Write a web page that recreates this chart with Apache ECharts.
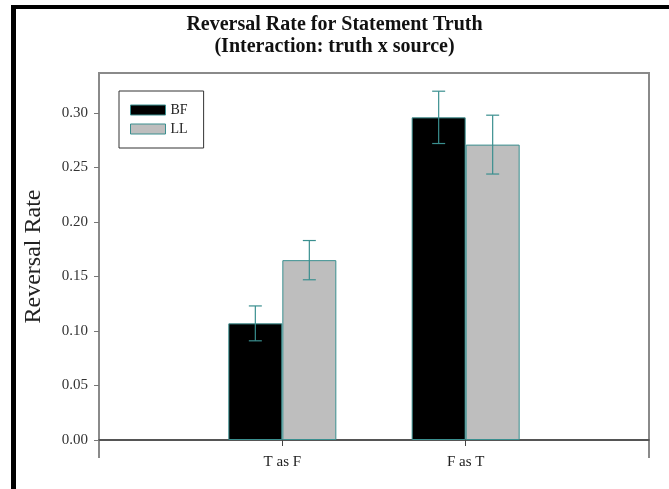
<!DOCTYPE html>
<html>
<head>
<meta charset="utf-8">
<script src="https://cdn.jsdelivr.net/npm/echarts@6/dist/echarts.min.js"></script>
<style>
  html, body { margin: 0; padding: 0; background: #fff; }
  #chart { width: 669px; height: 489px; }
</style>
</head>
<body>
<div id="chart"></div>
<script>
// Reversal rate by statement truth, split by source (BF / LL), with standard-error bars.
const groups = ['T as F', 'F as T'];
const seriesNames = ['BF', 'LL'];
const bfMean = [0.107, 0.296];
const bfErr = [0.016, 0.024];
const llMean = [0.165, 0.271];
const llErr = [0.018, 0.027];
const yTicks = [0, 0.05, 0.10, 0.15, 0.20, 0.25, 0.30];

const serif = 'Liberation Serif';
const teal = '#3a8f8f';
const barW = 54;

// Empty slots on both sides give the plot its outer margins.
const categories = [''].concat(groups, ['']);
const pad = arr => ['-'].concat(arr, ['-']);

function errData(means, errs) {
  return means.map((m, i) => [i + 1, m - errs[i], m + errs[i]]);
}

function errRenderer(offset) {
  return function (params, api) {
    const x = api.value(0);
    const lo = api.coord([x, api.value(1)]);
    const hi = api.coord([x, api.value(2)]);
    const cx = lo[0] + offset;
    const cap = 6.5;
    const style = { stroke: teal, lineWidth: 1.2 };
    return {
      type: 'group',
      children: [
        { type: 'line', shape: { x1: cx, y1: lo[1], x2: cx, y2: hi[1] }, style },
        { type: 'line', shape: { x1: cx - cap, y1: hi[1], x2: cx + cap, y2: hi[1] }, style },
        { type: 'line', shape: { x1: cx - cap, y1: lo[1], x2: cx + cap, y2: lo[1] }, style }
      ]
    };
  };
}

const chart = echarts.init(document.getElementById('chart'), null, { renderer: 'canvas' });

chart.setOption({
  animation: false,
  backgroundColor: '#fff',
  title: {
    text: 'Reversal Rate for Statement Truth\n(Interaction: truth x source)',
    left: 'center',
    top: 9,
    textStyle: { fontFamily: serif, fontSize: 20, fontWeight: 'bold', color: '#111', lineHeight: 22, align: 'center' }
  },
  legend: {
    orient: 'vertical',
    left: 119,
    top: 91,
    padding: [12, 16, 12, 11],
    itemWidth: 35,
    itemHeight: 10,
    itemGap: 5,
    icon: 'rect',
    borderColor: '#333',
    borderWidth: 1,
    data: seriesNames,
    textStyle: { fontFamily: serif, fontSize: 14, color: '#222', lineHeight: 14 },
    itemStyle: { borderColor: teal, borderWidth: 1 }
  },
  grid: {
    left: 99, right: 20, top: 73, bottom: 49,
    show: true, borderColor: '#8a8a8a', borderWidth: 2, backgroundColor: 'transparent'
  },
  xAxis: {
    type: 'category',
    data: categories,
    boundaryGap: false,
    axisLine: { lineStyle: { color: '#444', width: 1.5 } },
    axisTick: {
      length: 6,
      interval: (i, v) => v !== '',
      lineStyle: { color: '#444' }
    },
    axisLabel: { fontFamily: serif, fontSize: 15, color: '#222', margin: 15, interval: 0 },
    splitLine: { show: false }
  },
  yAxis: {
    type: 'value',
    min: 0,
    max: 0.3367,
    name: 'Reversal Rate',
    nameLocation: 'middle',
    nameGap: 53,
    nameTextStyle: { fontFamily: serif, fontSize: 24, color: '#222' },
    axisLine: { show: true, lineStyle: { color: '#8a8a8a', width: 2 } },
    axisTick: { show: true, length: 5, customValues: yTicks, lineStyle: { color: '#777' } },
    axisLabel: {
      fontFamily: serif, fontSize: 15, color: '#333', margin: 11,
      customValues: yTicks,
      formatter: v => v.toFixed(2)
    },
    splitLine: { show: false }
  },
  series: [
    {
      name: 'BF', type: 'bar', data: pad(bfMean),
      barWidth: barW, barGap: '0%',
      itemStyle: { color: '#000', borderColor: teal, borderWidth: 1 }
    },
    {
      name: 'LL', type: 'bar', data: pad(llMean),
      barWidth: barW, barGap: '0%',
      itemStyle: { color: '#bebebe', borderColor: teal, borderWidth: 1 }
    },
    {
      type: 'custom', data: errData(bfMean, bfErr),
      renderItem: errRenderer(-barW / 2), z: 5, silent: true
    },
    {
      type: 'custom', data: errData(llMean, llErr),
      renderItem: errRenderer(barW / 2), z: 5, silent: true
    }
  ],
  graphic: [
    // page frame on the top and left
    { type: 'rect', shape: { x: 11, y: 5, width: 658, height: 4 }, style: { fill: '#000' } },
    { type: 'rect', shape: { x: 11, y: 5, width: 5, height: 484 }, style: { fill: '#000' } },
    // side rules continue a little below the baseline
    { type: 'line', shape: { x1: 99, y1: 440, x2: 99, y2: 458 }, style: { stroke: '#8a8a8a', lineWidth: 2 } },
    { type: 'line', shape: { x1: 649, y1: 440, x2: 649, y2: 458 }, style: { stroke: '#8a8a8a', lineWidth: 2 } }
  ]
});
</script>
</body>
</html>
